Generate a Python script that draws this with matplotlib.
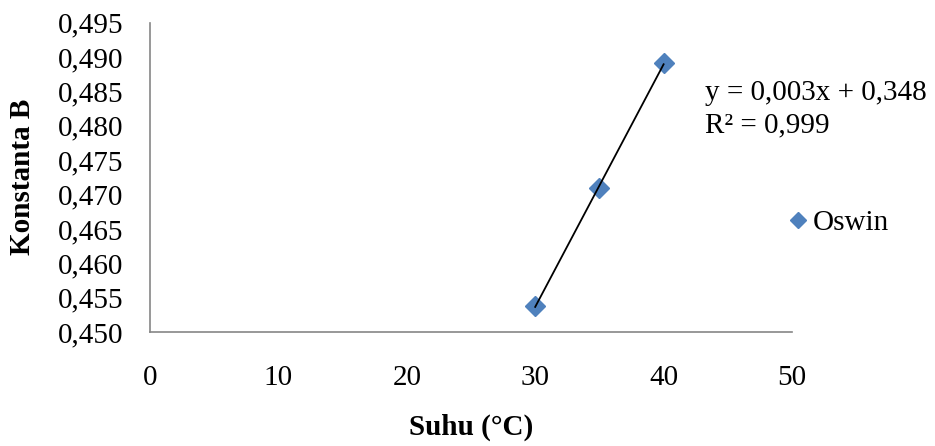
import matplotlib.pyplot as plt
import numpy as np

# data
suhu = [30, 35, 40]
konstanta_b = [0.4538, 0.4710, 0.4891]
x_ticks = [0, 10, 20, 30, 40, 50]
y_ticks = [0.450, 0.455, 0.460, 0.465, 0.470, 0.475, 0.480, 0.485, 0.490, 0.495]
y_tick_labels = ["0,450", "0,455", "0,460", "0,465", "0,470",
                 "0,475", "0,480", "0,485", "0,490", "0,495"]
series_name = "Oswin"
equation = "y = 0,003x + 0,348"
r_squared = "R\u00b2 = 0,999"

plt.rcParams['font.family'] = ['Liberation Serif', 'DejaVu Serif']
fs = 21

fig = plt.figure(figsize=(9.35, 4.46), dpi=100)
ax = fig.add_axes([150 / 935, 1 - 332 / 446, 642 / 935, 309.3 / 446])

ax.plot(suhu, konstanta_b, linestyle='none', marker='D', markersize=10,
        color='#4F81BD', label=series_name, zorder=3)

# linear trendline
slope, intercept = np.polyfit(suhu, konstanta_b, 1)
xs = np.array([min(suhu), max(suhu)])
ax.plot(xs, slope * xs + intercept, color='black', linewidth=1.3, zorder=4)

ax.set_xlim(0, 50)
ax.set_ylim(0.450, 0.495)
ax.set_xticks(x_ticks)
ax.set_yticks(y_ticks)
ax.set_yticklabels(y_tick_labels)
ax.tick_params(axis='both', length=0, labelsize=fs)
ax.tick_params(axis='y', pad=19)
ax.tick_params(axis='x', pad=24)

for side in ['top', 'right']:
    ax.spines[side].set_visible(False)
for side in ['left', 'bottom']:
    ax.spines[side].set_color('#868686')
    ax.spines[side].set_linewidth(1.2)

ax.set_xlabel("Suhu (\u00b0C)", fontsize=fs, fontweight='bold')
ax.xaxis.set_label_coords(0.5, -(427 - 332) / 309.3)
ax.xaxis.label.set_va('center')
fig.text(23 / 935, 1 - 177 / 446, "Konstanta B", rotation=90, fontsize=fs,
         fontweight='bold', ha='center', va='center')

fig.text(705 / 935, 1 - 93 / 446, equation, fontsize=fs, ha='left', va='center')
fig.text(705 / 935, 1 - 125 / 446, r_squared, fontsize=fs, ha='left', va='center')

fig.legend(loc='center left', bbox_to_anchor=(789.5 / 935, 1 - 223 / 446),
           frameon=False, fontsize=fs, borderpad=0, borderaxespad=0,
           handlelength=0.6, handletextpad=0.2, markerscale=0.85)

fig.savefig("out.png", dpi=100, facecolor='white')
